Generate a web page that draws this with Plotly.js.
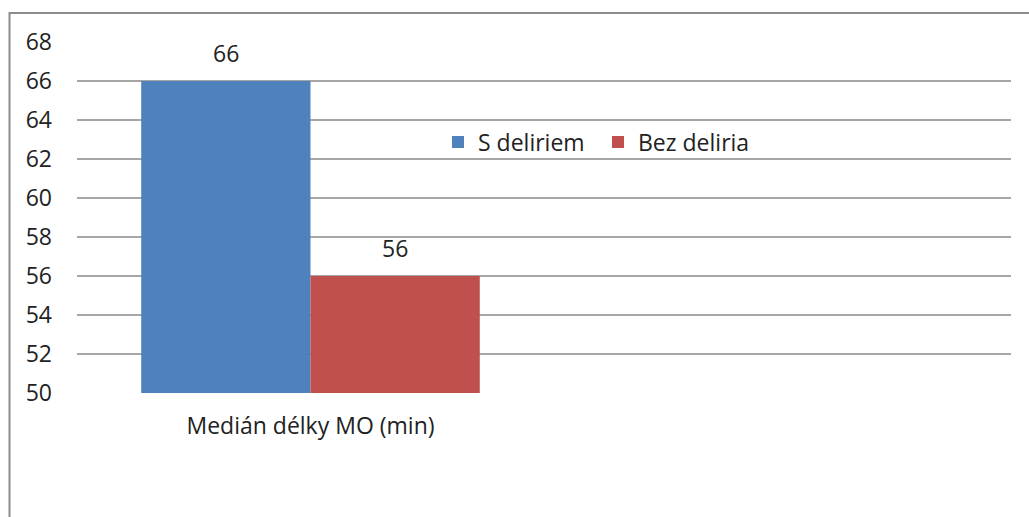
<!DOCTYPE html>
<html>
<head>
<meta charset="utf-8">
<script src="https://cdn.plot.ly/plotly-3.0.1.min.js"></script>
<style>html,body{margin:0;padding:0;background:#fff;}#chart{width:1029px;height:517px;}</style>
</head>
<body>
<div id="chart"></div>
<script>
const categories = ['Medián délky MO (min)'];
const seriesNames = ['S deliriem', 'Bez deliria'];
const sDeliriem = [66];
const bezDeliria = [56];
const yTicks = [50, 52, 54, 56, 58, 60, 62, 64, 66, 68];

const FONT = 'Open Sans, Liberation Sans, sans-serif';
const FS = 23;
const W = 1029, H = 517;
const m = {l: 77, r: 18, t: 42, b: 124};
const pw = W - m.l - m.r, ph = H - m.t - m.b;
const px = v => (v - m.l) / pw;
const py = v => (H - m.b - v) / ph;
const BARGAP = 0.275;
const half = (1 - BARGAP) / 4;

const traces = [
  {type: 'bar', name: seriesNames[0], x: categories, y: sDeliriem,
   marker: {color: '#4f81bd'}},
  {type: 'bar', name: seriesNames[1], x: categories, y: bezDeliria,
   marker: {color: '#c0504d'}}
];

const annotations = [];
categories.forEach((c, i) => {
  annotations.push({xref: 'x', yref: 'y', x: i - half, y: sDeliriem[i], text: String(sDeliriem[i]),
    showarrow: false, yanchor: 'bottom', yshift: 10, font: {family: FONT, size: FS, color: '#222'}});
  annotations.push({xref: 'x', yref: 'y', x: i + half, y: bezDeliria[i], text: String(bezDeliria[i]),
    showarrow: false, yanchor: 'bottom', yshift: 10, font: {family: FONT, size: FS, color: '#222'}});
});

const layout = {
  width: W, height: H,
  margin: m,
  paper_bgcolor: '#fff', plot_bgcolor: '#fff',
  font: {family: FONT, size: FS, color: '#222'},
  barmode: 'group', bargap: BARGAP, bargroupgap: 0,
  showlegend: true,
  legend: {orientation: 'h', x: px(438), xanchor: 'left', y: py(142), yanchor: 'middle',
           entrywidth: 115, entrywidthmode: 'pixels',
           font: {family: FONT, size: FS, color: '#222'}, bgcolor: 'rgba(0,0,0,0)',
           traceorder: 'normal'},
  xaxis: {type: 'category', range: [-0.5, 1.5], showgrid: false, zeroline: false,
          showline: false, ticks: '', ticklabelstandoff: 17,
          tickfont: {family: FONT, size: FS, color: '#222'}, fixedrange: true},
  yaxis: {range: [50, 68], tickvals: yTicks, ticktext: yTicks.map(String),
          showgrid: true, gridcolor: '#a6a6a6', gridwidth: 1.3, zeroline: false,
          showline: false, ticks: '', ticklabelstandoff: 24,
          tickfont: {family: FONT, size: FS, color: '#222'}, fixedrange: true},
  annotations: annotations,
  shapes: [{type: 'path', xref: 'paper', yref: 'paper',
            path: `M ${px(9.5)} ${py(530)} L ${px(9.5)} ${py(13)} L ${px(1040)} ${py(13)}`,
            line: {color: '#8c8c8c', width: 2}}]
};

Plotly.newPlot('chart', traces, layout, {displayModeBar: false, staticPlot: true});
</script>
</body>
</html>
